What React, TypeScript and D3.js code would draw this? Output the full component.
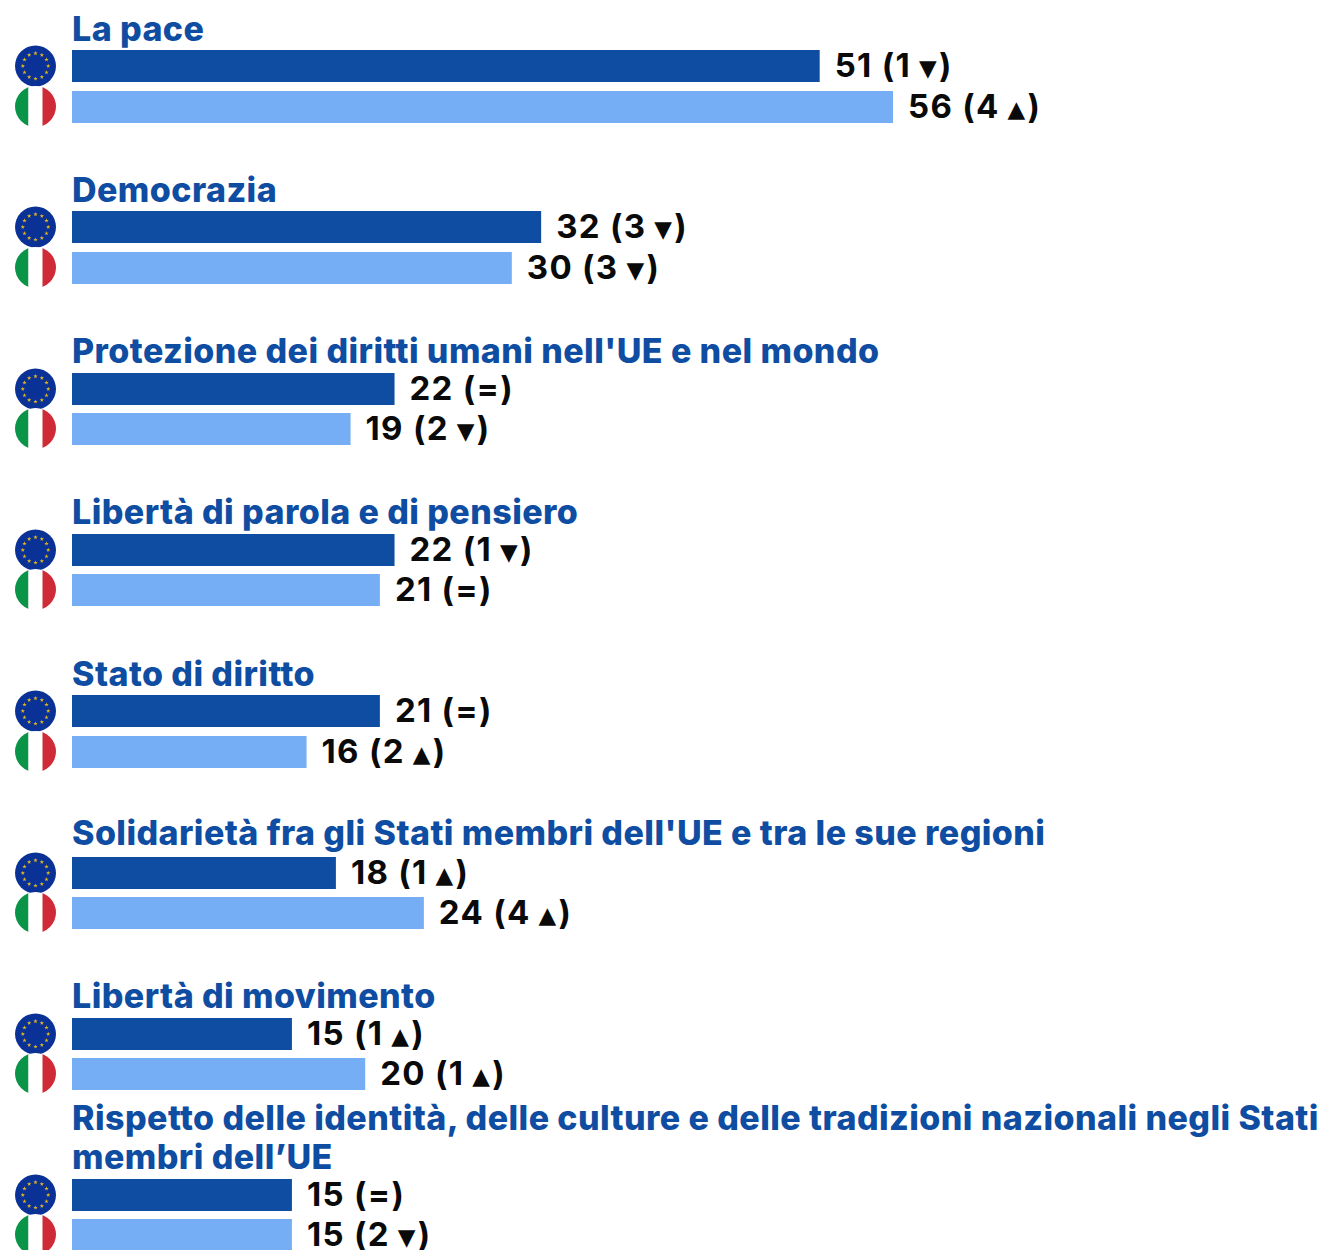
import React from "react";
import * as d3 from "d3";

const categories = [
  ["La pace"],
  ["Democrazia"],
  ["Protezione dei diritti umani nell'UE e nel mondo"],
  ["Libertà di parola e di pensiero"],
  ["Stato di diritto"],
  ["Solidarietà fra gli Stati membri dell'UE e tra le sue regioni"],
  ["Libertà di movimento"],
  ["Rispetto delle identità, delle culture e delle tradizioni nazionali negli Stati", "membri dell’UE"],
];
const euValues = [51, 32, 22, 22, 21, 18, 15, 15];
const itValues = [56, 30, 19, 21, 16, 24, 20, 15];
const euChanges = ["1 ▼", "3 ▼", "=", "1 ▼", "=", "1 ▲", "1 ▲", "="];
const itChanges = ["4 ▲", "3 ▼", "2 ▼", "=", "2 ▲", "4 ▲", "1 ▲", "2 ▼"];
const euBarTops = [50, 211, 373, 534, 695, 857, 1018, 1179];
const itBarTops = [91, 252, 413, 574, 736, 897, 1058, 1219];
const titleBaselines = [41, 202, 363, 524, 686, 845, 1008, 1130];

const W = 1326, H = 1250;
const x = d3.scaleLinear().domain([0, 56]).range([72, 893]);
const BLUE = "#0e4da1", LIGHT = "#75aef5", TITLE = "#0e4da1";
const titleFont = "Inter, sans-serif";
const labelFont = "Inter, sans-serif";
const starPath = d3.symbol().type(d3.symbolStar).size(6)() as string;
const starAngles = d3.range(12).map((i) => (i * Math.PI) / 6);

function Label({ px, py, value, change }: { px: number; py: number; value: number; change: string }) {
  const [n, arrow] = change.split(" ");
  return (
    <text x={px} y={py} fontFamily={labelFont} fontWeight={700} fontSize={33} letterSpacing={1.3} fill="#0a0a0a">
      {value} ({n}
      {arrow ? <tspan fontFamily="'DejaVu Sans'" fontSize={23} dx={8} dy={-1}>{arrow}</tspan> : null}
      {arrow ? <tspan dy={1} dx={1}>)</tspan> : ")"}
    </text>
  );
}

function EuFlag({ cy }: { cy: number }) {
  return (
    <g transform={`translate(35.5,${cy})`}>
      <circle r={20.5} fill="#0a3296" />
      {starAngles.map((a, i) => (
        <path key={i} d={starPath} fill="#e3b81f" transform={`translate(${12.7 * Math.sin(a)},${-12.7 * Math.cos(a)})`} />
      ))}
    </g>
  );
}

function ItFlag({ cy, id }: { cy: number; id: string }) {
  return (
    <g transform={`translate(35.5,${cy})`}>
      <clipPath id={id}><circle r={20.5} /></clipPath>
      <g clipPath={`url(#${id})`}>
        <rect x={-21} y={-21} width={14} height={42} fill="#0a9448" />
        <rect x={-7} y={-21} width={14} height={42} fill="#ffffff" />
        <rect x={7} y={-21} width={14} height={42} fill="#cf2b37" />
      </g>
    </g>
  );
}

export default function App() {
  return (
    <svg width={W} height={H} style={{ position: "absolute", left: 0, top: 0 }}>
      <rect width={W} height={H} fill="#fff" />
      {categories.map((lines, i) => (
        <g key={i}>
          {lines.map((l, j) => (
            <text key={j} x={72} y={titleBaselines[i] + j * 39} fontFamily={titleFont} fontWeight={800} fontSize={34} letterSpacing={0.43} fill={TITLE}>{l}</text>
          ))}
          <EuFlag cy={euBarTops[i] + 16} />
          <ItFlag cy={itBarTops[i] + 15.5} id={`it${i}`} />
          <rect x={x(0)} y={euBarTops[i]} width={x(euValues[i]) - x(0)} height={32} fill={BLUE} />
          <rect x={x(0)} y={itBarTops[i]} width={x(itValues[i]) - x(0)} height={32} fill={LIGHT} />
          <Label px={x(euValues[i]) + 15} py={euBarTops[i] + 27} value={euValues[i]} change={euChanges[i]} />
          <Label px={x(itValues[i]) + 15} py={itBarTops[i] + 27} value={itValues[i]} change={itChanges[i]} />
        </g>
      ))}
    </svg>
  );
}
